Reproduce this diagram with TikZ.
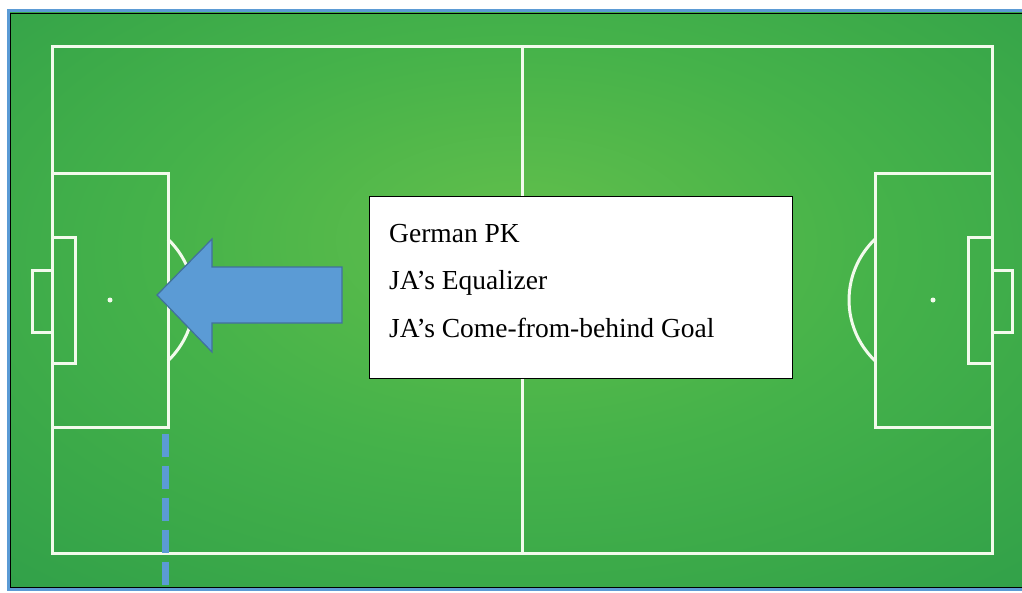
\documentclass[tikz,border=0pt]{standalone}
\usepackage{fontspec}
\setmainfont{Liberation Serif}
\definecolor{fc}{HTML}{62BF4B}
\definecolor{fm}{HTML}{45B24A}
\definecolor{fe}{HTML}{2A9A48}
\definecolor{fe2}{HTML}{1F8C43}
\definecolor{lineW}{HTML}{F2FAEC}
\definecolor{arrowfill}{HTML}{5B9BD5}
\definecolor{arrowedge}{HTML}{41719C}
\definecolor{framecol}{HTML}{5B9BD5}
\pgfdeclareradialshading{field}{\pgfpoint{0bp}{6bp}}{%
  color(0bp)=(fc); color(18bp)=(fm); color(45bp)=(fe); color(72bp)=(fe2)}
\tikzset{
  pitch/.style={draw=lineW, line width=3pt, line join=miter},
  spot/.style={fill=lineW, draw=none},
  marker/.style={draw=arrowfill, line width=7pt, dash pattern=on 23.5pt off 8.5pt},
  infobox/.style={draw=black, line width=0.8pt, fill=white, inner sep=0pt},
  info/.style={anchor=base west, inner sep=0pt, font=\fontsize{27.5pt}{33pt}\selectfont},
}
\begin{document}
\begin{tikzpicture}[x=1pt,y=-1pt]
\useasboundingbox (0,0) rectangle (1022,592);
\begin{scope}
\clip (0,0) rectangle (1022,592);
% background field
\shade[shading=field] (9,12) rectangle (1030,588);
% frame
\draw[black, line width=1pt] (10.5,13) -- (10.5,587) -- (1030,587);
\draw[black, line width=1pt] (10.5,13) -- (1030,13);
\draw[framecol, line width=3pt] (8,10.5) rectangle (1030,589.5);
% pitch markings
\draw[pitch] (52,46) rectangle (992,553);
\draw[pitch] (522,46) -- (522,553);
% left end
\draw[pitch] (52,173) rectangle (168,427);
\draw[pitch] (52,237) rectangle (75,363);
\draw[pitch] (52,270) -- (32,270) -- (32,332) -- (52,332);
\draw[pitch] (110,300) ++(-46.4:84) arc[start angle=-46.4, end angle=46.4, radius=84];
\fill[spot] (110,300) circle (2.5);
% right end
\draw[pitch] (875,173) rectangle (992,427);
\draw[pitch] (968,237) rectangle (992,363);
\draw[pitch] (992,270) -- (1012,270) -- (1012,332) -- (992,332);
\draw[pitch] (933,300) ++(133.6:84) arc[start angle=133.6, end angle=226.4, radius=84];
\fill[spot] (933,300) circle (2.5);
% dashed marker line
\coordinate (dtop) at (165,433.5);
\coordinate (dbot) at (165,600);
\draw[marker] (dtop) -- (dbot);
% arrow
\draw[fill=arrowfill, draw=arrowedge, line width=1.2pt, line join=miter]
  (157,295) -- (212,239) -- (212,267) -- (342,267) -- (342,323) -- (212,323) -- (212,352) -- cycle;
% text box
\node[infobox, minimum width=423pt, minimum height=182pt, anchor=north west] (box) at (369,196) {};
\node[info] (t1) at (389,242) {German PK};
\node[info] (t2) at (389,289) {JA’s Equalizer};
\node[info] (t3) at (389,337) {JA’s Come-from-behind Goal};
\end{scope}
\end{tikzpicture}
\end{document}
